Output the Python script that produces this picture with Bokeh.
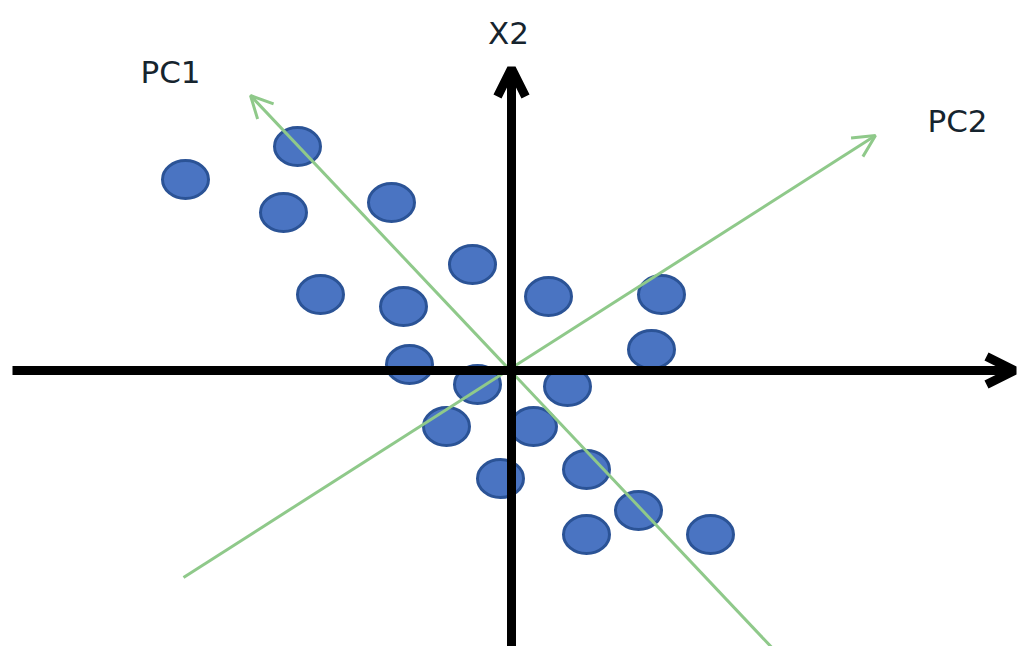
from bokeh.plotting import figure
from bokeh.models import Range1d, Arrow, OpenHead, ColumnDataSource
from bokeh.core.properties import value
from bokeh.embed import file_html
from bokeh.resources import INLINE

# Data points (X1, X2) in chart units
x1 = [-6.52, -4.28, -4.56, -2.40, -0.78, -3.82, -2.16, 0.74, 3.00, 2.80,
      -2.04, -0.68, 1.12, -1.30, 0.44, -0.22, 1.50, 2.54, 1.50, 3.98]
x2 = [3.82, 4.48, 3.16, 3.36, 2.12, 1.52, 1.28, 1.48, 1.52, 0.42,
      0.12, -0.28, -0.32, -1.12, -1.12, -2.16, -1.98, -2.80, -3.28, -3.28]

# Principal component directions (start -> tip)
pc_names = ["PC1", "PC2"]
pc_start_x = [5.32, -6.56]
pc_start_y = [-5.66, -4.14]
pc_end_x = [-5.22, 7.28]
pc_end_y = [5.50, 4.70]

# Coordinate axes (start -> tip)
ax_start_x = [-9.98, 0.0]
ax_start_y = [0.0, -5.60]
ax_end_x = [10.06, 0.0]
ax_end_y = [0.0, 6.04]

# Labels
label_text = ["PC1", "X2", "PC2"]
label_x = [-6.82, -0.06, 8.92]
label_y = [5.98, 6.76, 5.00]

p = figure(width=1018, height=646, output_backend="svg", toolbar_location=None,
           x_range=Range1d(-10.22, 10.14), y_range=Range1d(-5.52, 7.40),
           min_border=0, background_fill_color="white", border_fill_color="white")
p.axis.visible = False
p.grid.visible = False
p.outline_line_color = None

src = ColumnDataSource(dict(x=x1, y=x2))
p.ellipse(x="x", y="y", width=0.92, height=0.76, source=src,
          fill_color="#4a74c2", line_color="#2b5396", line_width=3)

for sx, sy, ex, ey in zip(pc_start_x, pc_start_y, pc_end_x, pc_end_y):
    p.add_layout(Arrow(end=OpenHead(size=22, line_color="#8fc98a", line_width=3),
                       x_start=sx, y_start=sy, x_end=ex, y_end=ey,
                       line_color="#8fc98a", line_width=3))

for sx, sy, ex, ey in zip(ax_start_x, ax_start_y, ax_end_x, ax_end_y):
    p.add_layout(Arrow(end=OpenHead(size=28, line_color="black", line_width=9),
                       x_start=sx, y_start=sy, x_end=ex, y_end=ey,
                       line_color="black", line_width=9))

lsrc = ColumnDataSource(dict(x=label_x, y=label_y, t=label_text))
p.text(x="x", y="y", text="t", source=lsrc, text_align="center",
       text_baseline="middle", text_font=value("DejaVu Sans"),
       text_font_size="31px", text_color="#16242e")

open("out.html", "w").write(file_html(p, INLINE))
